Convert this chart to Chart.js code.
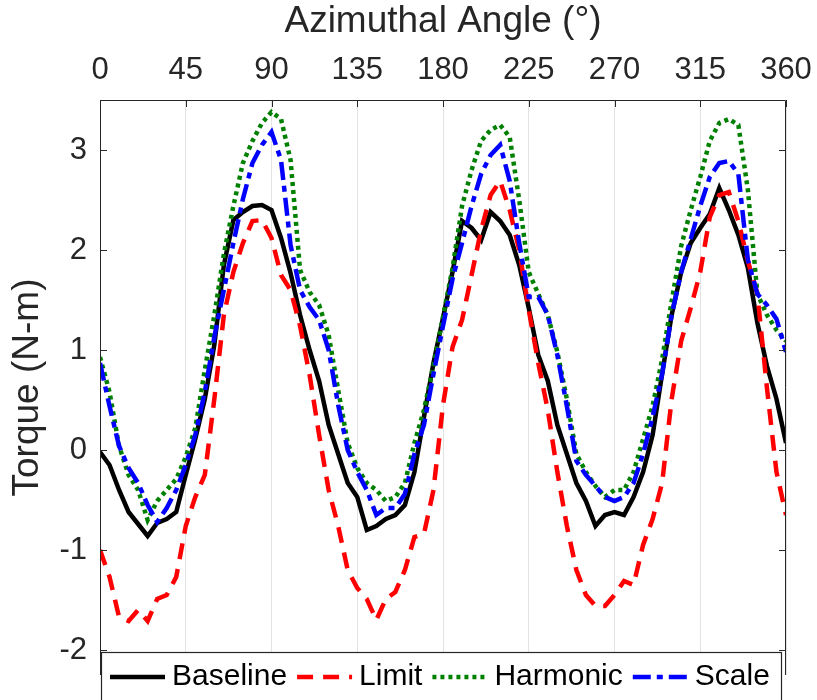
<!DOCTYPE html>
<html>
<head>
<meta charset="utf-8">
<script src="https://cdn.jsdelivr.net/npm/chart.js@4.4.1/dist/chart.umd.min.js"></script>
<style>
  html, body { margin: 0; padding: 0; background: #fff; }
  #wrap { width: 817px; height: 700px; }
</style>
</head>
<body>
<div id="wrap"><canvas id="torque-chart" width="817" height="700"></canvas></div>
<script>
const ctx = document.querySelector("#torque-chart");

// azimuthal angle (deg), one reading every 5 deg
const angles = [0, 5, 10, 15, 20, 25, 30, 35, 40, 45, 50, 55, 60, 65, 70, 75, 80, 85, 90,
    95, 100, 105, 110, 115, 120, 125, 130, 135, 140, 145, 150, 155, 160, 165, 170, 175, 180,
    185, 190, 195, 200, 205, 210, 215, 220, 225, 230, 235, 240, 245, 250, 255, 260, 265, 270,
    275, 280, 285, 290, 295, 300, 305, 310, 315, 320, 325, 330, 335, 340, 345, 350, 355, 360];

const baseline = [-0.02, -0.15, -0.40, -0.62, -0.74, -0.86, -0.73, -0.69, -0.62, -0.25, 0.11, 0.51, 1.05, 1.85, 2.30, 2.38, 2.44, 2.45, 2.40,
    2.12, 1.77, 1.35, 1.00, 0.69, 0.25, -0.04, -0.33, -0.47, -0.80, -0.76, -0.69, -0.65, -0.55, -0.22, 0.33, 0.87, 1.32,
    1.78, 2.29, 2.22, 2.10, 2.38, 2.29, 2.15, 1.85, 1.42, 0.95, 0.69, 0.25, -0.04, -0.33, -0.51, -0.76, -0.65, -0.62,
    -0.65, -0.47, -0.22, 0.15, 0.76, 1.35, 1.78, 2.07, 2.22, 2.36, 2.62, 2.40, 2.15, 1.82, 1.27, 0.84, 0.51, 0.07];

const limit = [-1.00, -1.27, -1.67, -1.71, -1.60, -1.71, -1.49, -1.45, -1.27, -0.76, -0.47, -0.25, 0.51, 1.35, 1.78, 2.07, 2.29, 2.30, 2.12,
    1.75, 1.60, 1.24, 0.75, 0.15, -0.40, -0.76, -1.20, -1.38, -1.49, -1.70, -1.49, -1.42, -1.20, -0.87, -0.84, -0.40, 0.45,
    1.03, 1.30, 1.75, 2.20, 2.55, 2.69, 2.40, 2.00, 1.40, 0.87, 0.40, -0.22, -0.76, -1.20, -1.45, -1.56, -1.56, -1.45,
    -1.31, -1.35, -0.95, -0.69, -0.33, 0.51, 1.09, 1.42, 1.78, 2.33, 2.55, 2.58, 2.29, 1.89, 1.56, 0.62, -0.22, -0.65];

const harmonic = [0.93, 0.58, 0.04, -0.25, -0.40, -0.70, -0.51, -0.40, -0.29, -0.07, 0.22, 0.80, 1.35, 1.96, 2.44, 2.87, 3.09, 3.27, 3.38,
    3.31, 2.90, 1.80, 1.58, 1.45, 1.15, 0.60, 0.07, -0.18, -0.33, -0.40, -0.51, -0.47, -0.33, 0.07, 0.40, 0.84, 1.33,
    1.82, 2.44, 2.80, 3.09, 3.20, 3.25, 3.13, 2.50, 1.78, 1.56, 1.35, 0.98, 0.51, -0.04, -0.22, -0.36, -0.47, -0.40,
    -0.40, -0.22, 0.11, 0.44, 0.91, 1.49, 2.04, 2.40, 2.73, 3.09, 3.27, 3.31, 3.25, 2.60, 1.56, 1.35, 1.20, 1.09];

const scaleVals = [0.87, 0.44, 0.04, -0.18, -0.33, -0.55, -0.72, -0.58, -0.40, -0.15, 0.15, 0.58, 1.13, 1.60, 2.07, 2.51, 2.87, 3.05, 3.18,
    2.90, 2.05, 1.60, 1.43, 1.30, 1.00, 0.45, 0.00, -0.22, -0.40, -0.65, -0.58, -0.58, -0.44, -0.04, 0.25, 0.76, 1.24,
    1.71, 2.07, 2.44, 2.76, 2.95, 3.05, 2.69, 2.07, 1.53, 1.53, 1.35, 0.95, 0.44, -0.11, -0.25, -0.36, -0.47, -0.51,
    -0.47, -0.33, -0.04, 0.33, 0.76, 1.35, 1.78, 2.11, 2.44, 2.73, 2.87, 2.89, 2.76, 1.90, 1.56, 1.45, 1.31, 0.98];

const xTicks = [0, 45, 90, 135, 180, 225, 270, 315, 360];
const yTicks = [-2, -1, 0, 1, 2, 3];

const axisColor = "#262626";
const fontFamily = "'Liberation Sans', Arial, Helvetica, sans-serif";

function points(values) {
    return angles.map((a, i) => ({ x: a, y: values[i] }));
}

const chartData = {
    datasets: [
        { label: "Baseline", data: points(baseline), borderColor: "#000000", borderDash: [], order: 4 },
        { label: "Limit", data: points(limit), borderColor: "#ff0000", borderDash: [16, 10], order: 3 },
        { label: "Harmonic", data: points(harmonic), borderColor: "#008000", borderDash: [4, 4], order: 2 },
        { label: "Scale", data: points(scaleVals), borderColor: "#0000ff", borderDash: [18, 6, 6, 6], order: 1 },
    ],
};
chartData.datasets.forEach(ds => {
    ds.borderWidth = 4.5;
    ds.pointRadius = 0;
    ds.fill = false;
    ds.tension = 0;
    ds.borderCapStyle = "butt";
});

// box round the axes with ticks pointing inwards, like the original
const framePlugin = {
    id: "frame",
    afterDatasetsDraw(chart) {
        const { ctx, chartArea: a, scales } = chart;
        ctx.save();
        ctx.strokeStyle = axisColor;
        ctx.lineWidth = 1;
        ctx.beginPath();
        ctx.moveTo(a.left + 0.5, a.bottom);
        ctx.lineTo(a.left + 0.5, a.top + 0.5);
        ctx.lineTo(a.right - 0.5, a.top + 0.5);
        ctx.lineTo(a.right - 0.5, a.bottom);
        const len = 7;
        xTicks.forEach(t => {
            const px = Math.round(scales.x.getPixelForValue(t)) + 0.5;
            ctx.moveTo(px, a.top);
            ctx.lineTo(px, a.top + len);
        });
        yTicks.forEach(t => {
            const py = Math.round(scales.y.getPixelForValue(t)) + 0.5;
            ctx.moveTo(a.left, py);
            ctx.lineTo(a.left + len, py);
            ctx.moveTo(a.right, py);
            ctx.lineTo(a.right - len, py);
        });
        ctx.stroke();
        ctx.restore();
    },
};

// legend box sitting over the bottom of the plot
const legendPlugin = {
    id: "boxLegend",
    afterDraw(chart) {
        const { ctx, chartArea: a } = chart;
        const top = 652;
        const midY = 677;
        ctx.save();
        ctx.fillStyle = "#ffffff";
        ctx.fillRect(a.left + 1, top, a.right - a.left - 5, 60);
        ctx.strokeStyle = axisColor;
        ctx.lineWidth = 1.2;
        ctx.strokeRect(a.left + 1.5, top + 0.5, a.right - a.left - 6, 60);
        ctx.font = "30px " + fontFamily;
        ctx.textBaseline = "middle";
        let x = 110;
        chart.data.datasets.forEach(ds => {
            ctx.strokeStyle = ds.borderColor;
            ctx.lineWidth = ds.borderWidth;
            ctx.setLineDash(ds.borderDash);
            ctx.beginPath();
            ctx.moveTo(x, midY);
            ctx.lineTo(x + 55, midY);
            ctx.stroke();
            ctx.setLineDash([]);
            ctx.fillStyle = "#000000";
            ctx.fillText(ds.label, x + 62, midY);
            x += 62 + ctx.measureText(ds.label).width + 10;
        });
        ctx.restore();
    },
};

const config = {
    type: "line",
    data: chartData,
    options: {
        responsive: false,
        animation: false,
        devicePixelRatio: 1,
        layout: { padding: { top: 0, right: 31, bottom: 25, left: 0 } },
        plugins: { legend: { display: false }, tooltip: { enabled: false } },
        scales: {
            x: {
                type: "linear",
                position: "top",
                min: 0,
                max: 360,
                afterBuildTicks: s => { s.ticks = xTicks.map(v => ({ value: v })); },
                afterFit: s => { s.height = 100; s.paddingLeft = 0; s.paddingRight = 0; },
                ticks: { color: axisColor, font: { size: 31, family: fontFamily }, padding: 11, maxRotation: 0 },
                grid: { color: "#e3e3e3", lineWidth: 1, drawTicks: false },
                border: { display: false },
                title: {
                    display: true,
                    text: "Azimuthal Angle (°)",
                    color: axisColor,
                    font: { size: 37, family: fontFamily },
                    padding: { top: 0, bottom: 0 },
                },
            },
            y: {
                min: -2.25,
                max: 3.5,
                afterBuildTicks: s => { s.ticks = yTicks.map(v => ({ value: v })); },
                afterFit: s => { s.width = 100; s.paddingTop = 0; s.paddingBottom = 0; },
                ticks: { color: axisColor, font: { size: 31, family: fontFamily }, padding: 13 },
                grid: { display: false, drawTicks: false },
                border: { display: false },
                title: {
                    display: true,
                    text: "Torque (N-m)",
                    color: axisColor,
                    font: { size: 37, family: fontFamily },
                    padding: { top: 6, bottom: 0 },
                },
            },
        },
    },
    plugins: [framePlugin, legendPlugin],
};

const torqueChart = new Chart(ctx, config);
</script>
</body>
</html>
